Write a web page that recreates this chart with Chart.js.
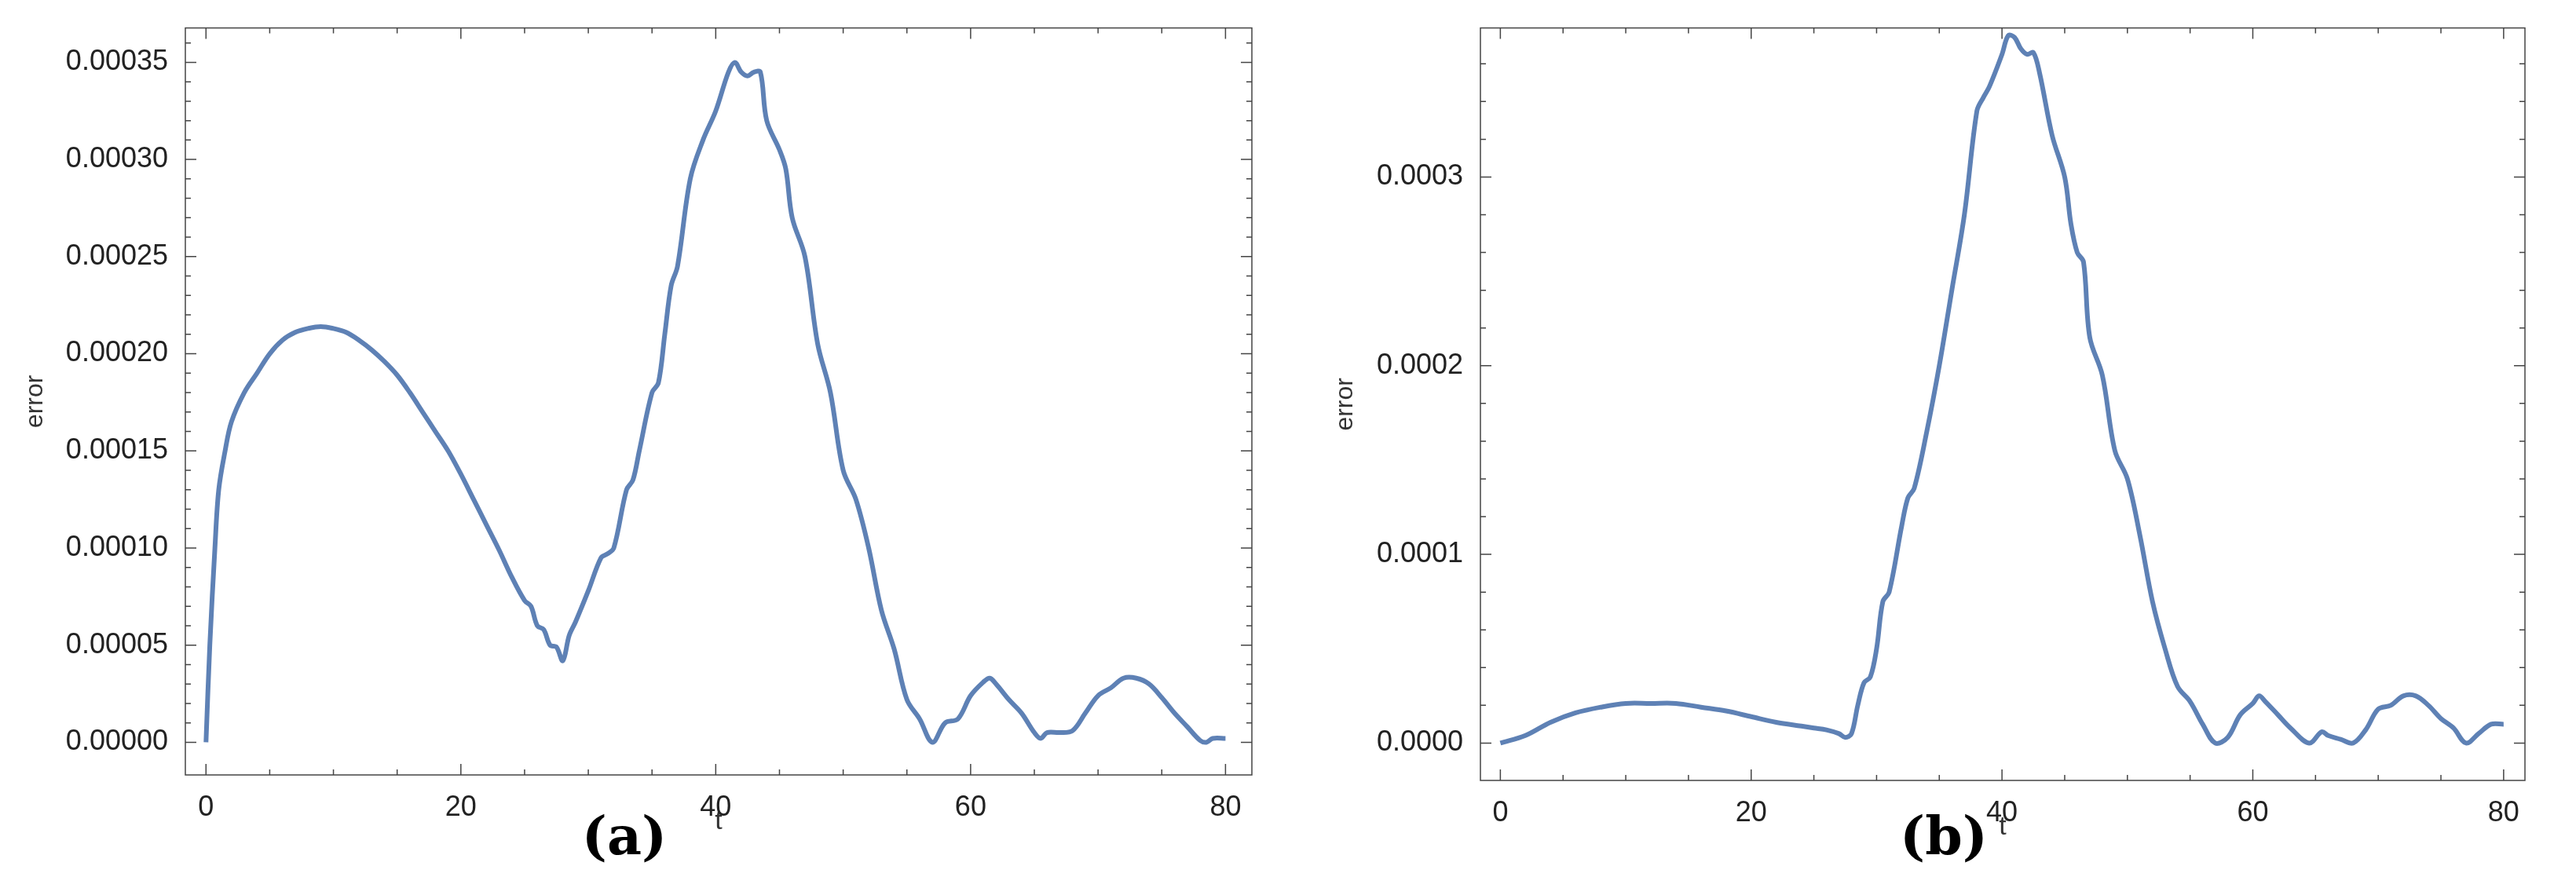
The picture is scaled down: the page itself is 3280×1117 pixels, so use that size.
<!DOCTYPE html>
<html>
<head>
<meta charset="utf-8">
<script src="https://cdn.jsdelivr.net/npm/chart.js@4"></script>
<style>
  body { margin: 0; background: #fff; width: 3280px; height: 1117px; position: relative; overflow: hidden; }
  .box { position: absolute; top: 0; width: 1640px; height: 1117px; }
  .cap { position: absolute; top: 1030px; transform: translateX(-50%); font: bold 68px "DejaVu Serif", "Liberation Serif", serif; color: #000; line-height: 1; }
</style>
</head>
<body>
<div class="box" style="left:0"><canvas id="chartA"></canvas></div>
<div class="box" style="left:1640px"><canvas id="chartB"></canvas></div>
<div class="cap" style="left:795px">(a)</div>
<div class="cap" style="left:2475px">(b)</div>
<script>
// panel (a)
const tA = [0,0.3,0.7,1,1.5,2,3,4,5,6,7,8,9,10,11,12,13,14,15,16,17,18,19,20,21,22,23,24,25,25.5,26,26.5,27,27.5,28,28.5,29,30,31,31.5,32,33,33.5,34,35,35.5,36,36.5,37,38,39,40,41,41.5,42,42.5,43,43.5,44,45,45.5,46,47,48,49,50,51,52,53,54,55,56,57,58,59,60,61,61.5,62,63,64,65,65.5,66,67,68,69,70,71,72,73,74,75,76,77,78,78.5,79,80];
const errA = [0,0.00005,0.0001,0.00013,0.00015,0.000165,0.00018,0.00019,0.0002,0.000207,0.000211,0.000213,0.000214,0.000213,0.000211,0.000207,0.000202,0.000196,0.000189,0.00018,0.00017,0.00016,0.00015,0.000138,0.000125,0.000112,0.000099,0.000085,0.000073,0.00007,0.00006,0.000058,0.00005,0.000049,0.000042,0.000055,0.000062,0.000078,0.000095,0.000097,0.0001,0.00013,0.000135,0.00015,0.00018,0.000185,0.00021,0.000235,0.000245,0.00029,0.00031,0.000325,0.000345,0.00035,0.000345,0.000343,0.000345,0.000345,0.00032,0.000305,0.000295,0.00027,0.00025,0.000205,0.00018,0.00014,0.000125,0.0001,0.000068,0.000048,0.000022,0.000012,0,0.00001,0.000012,0.000024,0.000031,0.000033,0.00003,0.000022,0.000015,0.000005,0.000002,0.000005,0.000005,0.000006,0.000015,0.000024,0.000028,0.000033,0.000033,0.00003,0.000023,0.000015,0.000008,0.000001,0,0.000002,0.000002];

// panel (b)
const tB = [0,2,4,6,8,10,12,14,16,18,20,22,24,25,26,27,27.5,28,28.5,29,29.5,30,30.5,31,32,32.5,33,34,35,36,37,38,38.5,39,40,40.5,41,41.5,42,42.5,43,44,45,45.5,46,46.5,47,48,49,50,51,52,53,54,55,56,57,58,59,60,60.5,61,62,63,64.5,65.5,66,67,68,69,70,71,72,73,74,75,76,77,78,79,80];
const errB = [0,0.000004,0.000011,0.000016,0.000019,0.000021,0.000021,0.000021,0.000019,0.000017,0.000014,0.000011,0.000009,0.000008,0.000007,0.000005,0.000003,0.000005,0.00002,0.000032,0.000035,0.00005,0.000075,0.00008,0.000115,0.00013,0.000135,0.000165,0.0002,0.00024,0.00028,0.000335,0.000342,0.000348,0.000365,0.000375,0.000374,0.000368,0.000365,0.000366,0.000355,0.000322,0.0003,0.000275,0.00026,0.000255,0.000215,0.000195,0.000155,0.00014,0.00011,0.000075,0.00005,0.00003,0.000022,0.00001,0,0.000003,0.000015,0.000021,0.000025,0.000022,0.000015,0.000008,0,0.000006,0.000004,0.000002,0,0.000007,0.000018,0.00002,0.000025,0.000025,0.00002,0.000013,0.000008,0,0.000005,0.00001,0.00001];

const xTicks = [0, 20, 40, 60, 80];

// frame with inward ticks on all four sides
const framePlugin = {
  id: "frame",
  afterDraw(chart, args, opts) {
    const ctx = chart.ctx, a = chart.chartArea;
    const xs = chart.scales.x, ys = chart.scales.y;
    ctx.save();
    ctx.strokeStyle = "#444";
    ctx.lineWidth = 1.5;
    ctx.strokeRect(a.left, a.top, a.right - a.left, a.bottom - a.top);
    ctx.beginPath();
    for (let v = 0; v <= 80; v += 5) {
      const len = v % 20 === 0 ? 14 : 7;
      const px = xs.getPixelForValue(v);
      ctx.moveTo(px, a.bottom); ctx.lineTo(px, a.bottom - len);
      ctx.moveTo(px, a.top); ctx.lineTo(px, a.top + len);
    }
    const n = Math.round(opts.yMax / opts.yMinor);
    for (let i = 0; i <= n; i++) {
      const v = i * opts.yMinor;
      const len = i % opts.yEvery === 0 ? 14 : 7;
      const py = ys.getPixelForValue(v);
      ctx.moveTo(a.left, py); ctx.lineTo(a.left + len, py);
      ctx.moveTo(a.right, py); ctx.lineTo(a.right - len, py);
    }
    ctx.stroke();
    ctx.restore();
  }
};

function makeChart(id, t, err, cfg) {
  const tickFont = { family: "'Liberation Sans Narrow', 'Liberation Sans', sans-serif", size: 36 };
  return new Chart(document.getElementById(id), {
    type: "line",
    data: {
      datasets: [{
        data: t.map((v, i) => ({ x: v, y: err[i] })),
        borderColor: "#5E81B5",
        borderWidth: 6,
        pointRadius: 0,
        tension: 0.35,
        fill: false,
      }],
    },
    plugins: [framePlugin],
    options: {
      responsive: true,
      maintainAspectRatio: false,
      animation: false,
      layout: { padding: { top: cfg.top, right: cfg.right, left: cfg.left, bottom: 1117 - cfg.bottom - 80 } },
      plugins: {
        legend: { display: false },
        tooltip: { enabled: false },
        frame: { yMax: cfg.yMax, yMinor: cfg.yMinor, yEvery: cfg.yEvery },
      },
      scales: {
        x: {
          type: "linear",
          min: cfg.xMin,
          max: cfg.xMax,
          afterBuildTicks: (s) => { s.ticks = xTicks.map((v) => ({ value: v })); },
          afterFit: (s) => { s.height = 80; },
          grid: { display: false },
          border: { display: false },
          ticks: { color: "#222", font: tickFont, padding: 12, maxRotation: 0 },
          title: { display: true, text: "t", color: "#333", font: { family: "'Liberation Sans', sans-serif", size: 34 }, padding: { top: 0, bottom: 0 } },
        },
        y: {
          min: cfg.yLo,
          max: cfg.yHi,
          afterBuildTicks: (s) => { s.ticks = cfg.yTicks.map((v) => ({ value: v })); },
          afterFit: (s) => { s.width = cfg.yWidth; },
          grid: { display: false },
          border: { display: false },
          ticks: { color: "#222", font: tickFont, padding: 14, callback: (v) => v.toFixed(cfg.digits) },
          title: { display: true, text: "error", color: "#333", font: { family: "'Liberation Sans', sans-serif", size: 32 }, padding: { bottom: 10 } },
        },
      },
    },
  });
}

makeChart("chartA", tA, errA, {
  top: 31, right: 46, left: 22, yWidth: 214, bottom: 987,
  xMin: -1.62, xMax: 82.07,
  yLo: -0.0000168, yHi: 0.0003677,
  yTicks: [0, 0.00005, 0.0001, 0.00015, 0.0002, 0.00025, 0.0003, 0.00035],
  digits: 5, yMax: 0.00036, yMinor: 0.00001, yEvery: 5,
});

makeChart("chartB", tB, errB, {
  top: 25, right: 65, left: 50, yWidth: 195, bottom: 994,
  xMin: -1.59, xMax: 81.7,
  yLo: -0.0000198, yHi: 0.000379,
  yTicks: [0, 0.0001, 0.0002, 0.0003],
  digits: 4, yMax: 0.00036, yMinor: 0.00002, yEvery: 5,
});
</script>
</body>
</html>
